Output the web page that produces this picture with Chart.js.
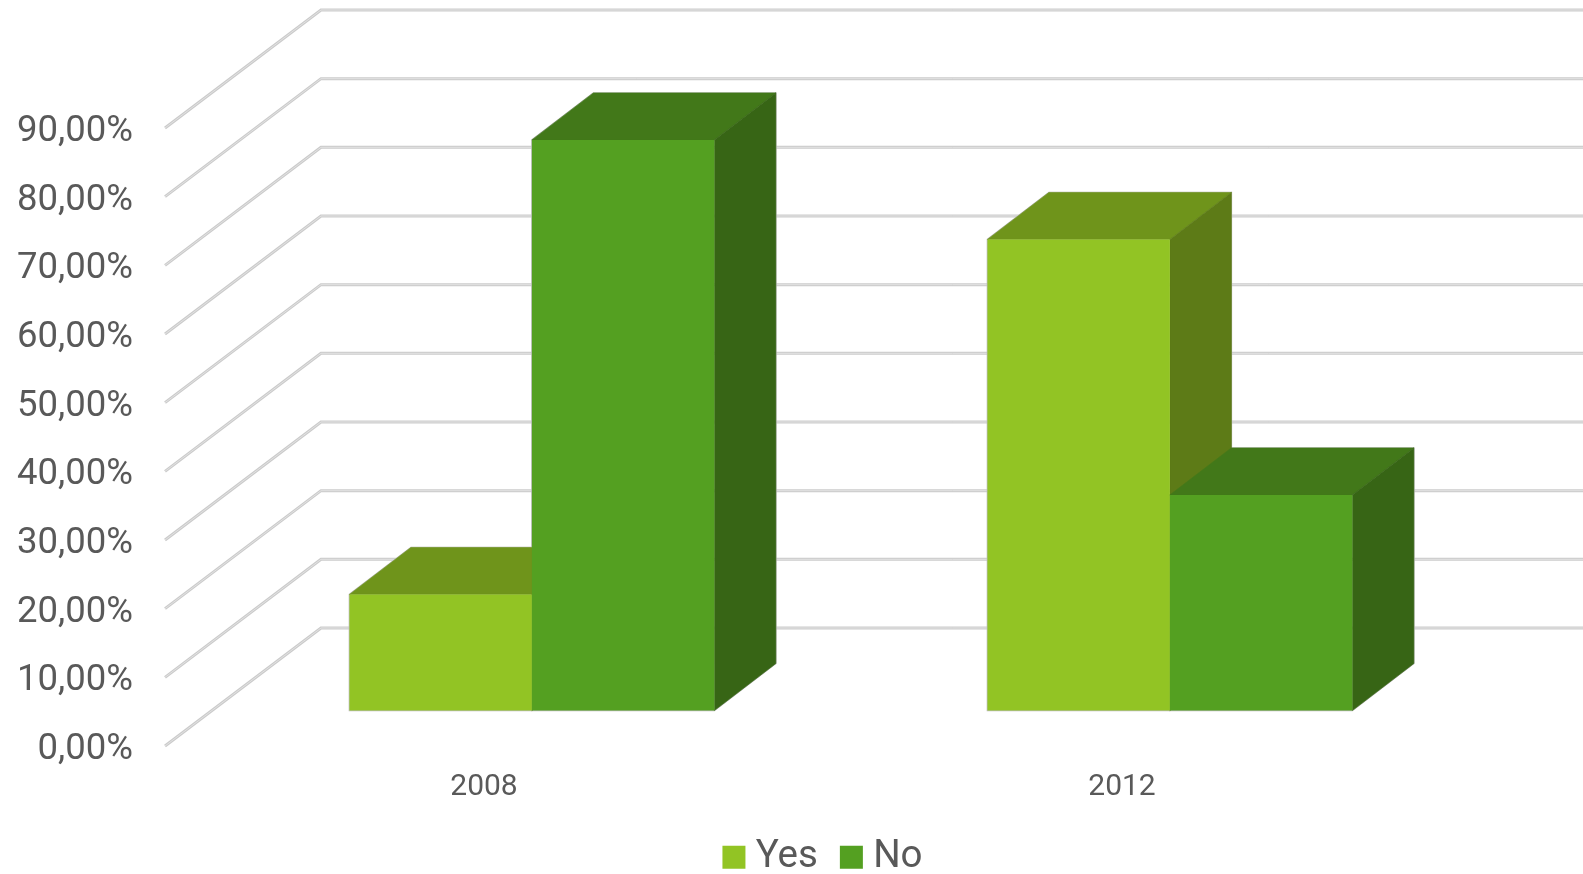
<!DOCTYPE html>
<html>
<head>
<meta charset="utf-8">
<style>
html,body{margin:0;padding:0;background:#fff;overflow:hidden}
#wrap{position:absolute;left:0;top:0;width:1583px;height:874px}
</style>
<script src="https://cdn.jsdelivr.net/npm/chart.js@4/dist/chart.umd.min.js"></script>
</head>
<body>
<div id="wrap"><canvas id="c" width="1583" height="874"></canvas></div>
<script>
const categories = ['2008', '2012'];
const yesValues = [16.9, 68.6];
const noValues = [83.1, 31.4];
const seriesNames = ['Yes', 'No'];
const yTickLabels = ['0,00%','10,00%','20,00%','30,00%','40,00%','50,00%','60,00%','70,00%','80,00%','90,00%'];

const FONT = 'Roboto, "Open Sans", sans-serif';
const TEXT = '#595959';
const frontColors = ['#92c424', '#54a021'];
const topColors = ['#6f941b', '#427819'];
const sideColors = ['#5d7b17', '#376515'];

// perspective of the wall, and of the bars inside it
const WALL = {dx: 156, dy: -118};
const PLANE = {dx: 47.9, dy: -35.5};
const DEPTH = {dx: 61.5, dy: -47};

function poly(ctx, pts, fill) {
  ctx.beginPath();
  pts.forEach((p, i) => i ? ctx.lineTo(p[0], p[1]) : ctx.moveTo(p[0], p[1]));
  ctx.closePath();
  ctx.fillStyle = fill;
  ctx.fill();
  ctx.strokeStyle = fill;
  ctx.lineWidth = 0.6;
  ctx.stroke();
}

const wall3d = {
  id: 'wall3d',
  afterLayout(chart) {
    const l = chart.legend;
    l.left = 71; l.right = 1583; l.top = 807;
    l.bottom = l.top + l.height;
    chart.scales.x.bottom = chart.height;
  },
  beforeDatasetsDraw(chart) {
    const ctx = chart.ctx;
    const y = chart.scales.y;
    const left = chart.chartArea.left;
    ctx.save();
    y.ticks.forEach((t) => {
      const py = y.getPixelForValue(t.value);
      const pts = [[left, py], [left + WALL.dx, py + WALL.dy], [chart.width + 5, py + WALL.dy]];
      [['#cbcbcb', 3], ['#e2e2e2', 1]].forEach(([col, w]) => {
        ctx.beginPath();
        pts.forEach((p, i) => i ? ctx.lineTo(p[0], p[1]) : ctx.moveTo(p[0], p[1]));
        ctx.strokeStyle = col; ctx.lineWidth = w; ctx.lineJoin = 'miter';
        ctx.stroke();
      });
    });
    ctx.restore();

    const metas = chart.getSortedVisibleDatasetMetas().slice().sort((a, b) => a.index - b.index);
    const d = DEPTH;
    ctx.save();
    ctx.translate(PLANE.dx, PLANE.dy);
    // thin halo around every solid, under all the faces
    metas.forEach((meta) => {
      meta.data.forEach((bar) => {
        const p = bar.getProps(['x', 'y', 'base', 'width'], true);
        const l = p.x - p.width / 2, r = p.x + p.width / 2;
        ctx.beginPath();
        ctx.moveTo(l, p.base); ctx.lineTo(l, p.y); ctx.lineTo(l + d.dx, p.y + d.dy);
        ctx.lineTo(r + d.dx, p.y + d.dy); ctx.lineTo(r + d.dx, p.base + d.dy); ctx.lineTo(r, p.base);
        ctx.closePath();
        ctx.strokeStyle = '#bdbdbd'; ctx.lineWidth = 1.5; ctx.stroke();
      });
    });
    metas.forEach((meta) => {
      const i = meta.index;
      meta.data.forEach((bar) => {
        const p = bar.getProps(['x', 'y', 'base', 'width'], true);
        const l = p.x - p.width / 2, r = p.x + p.width / 2;
        poly(ctx, [[l, p.y], [l + d.dx, p.y + d.dy], [r + d.dx, p.y + d.dy], [r, p.y]], topColors[i]);
        poly(ctx, [[r, p.y], [r + d.dx, p.y + d.dy], [r + d.dx, p.base + d.dy], [r, p.base]], sideColors[i]);
      });
      meta.controller.draw();
    });
    ctx.restore();
    return false;
  }
};

new Chart(document.getElementById('c'), {
  type: 'bar',
  data: {
    labels: categories,
    datasets: [
      {label: seriesNames[0], data: yesValues, backgroundColor: frontColors[0], borderWidth: 0},
      {label: seriesNames[1], data: noValues, backgroundColor: frontColors[1], borderWidth: 0}
    ]
  },
  options: {
    responsive: false,
    animation: false,
    layout: {padding: {top: 128, left: 0, right: 142, bottom: 0}},
    datasets: {bar: {categoryPercentage: 0.572, barPercentage: 1}},
    scales: {
      x: {
        grid: {display: false},
        border: {display: false},
        ticks: {color: TEXT, font: {family: FONT, size: 30, weight: 400}, padding: 15, maxRotation: 0},
        afterFit(s) { s.height = 128 - s.chart.legend.height; }
      },
      y: {
        min: 0, max: 90,
        grid: {display: false},
        border: {display: false},
        ticks: {
          stepSize: 10, color: TEXT, padding: 24, labelOffset: 4,
          font: {family: FONT, size: 36.5, weight: 400},
          callback: (v) => yTickLabels[Math.round(v / 10)]
        },
        afterFit(s) { s.width = 165; }
      }
    },
    plugins: {
      tooltip: {enabled: false},
      title: {display: false},
      legend: {
        display: true,
        position: 'bottom',
        labels: {
          color: TEXT,
          font: {family: FONT, size: 38.5, weight: 400},
          usePointStyle: true,
          pointStyle: 'rect',
          boxWidth: 5,
          boxHeight: 23,
          padding: 31
        }
      }
    }
  },
  plugins: [wall3d]
});
</script>
</body>
</html>
